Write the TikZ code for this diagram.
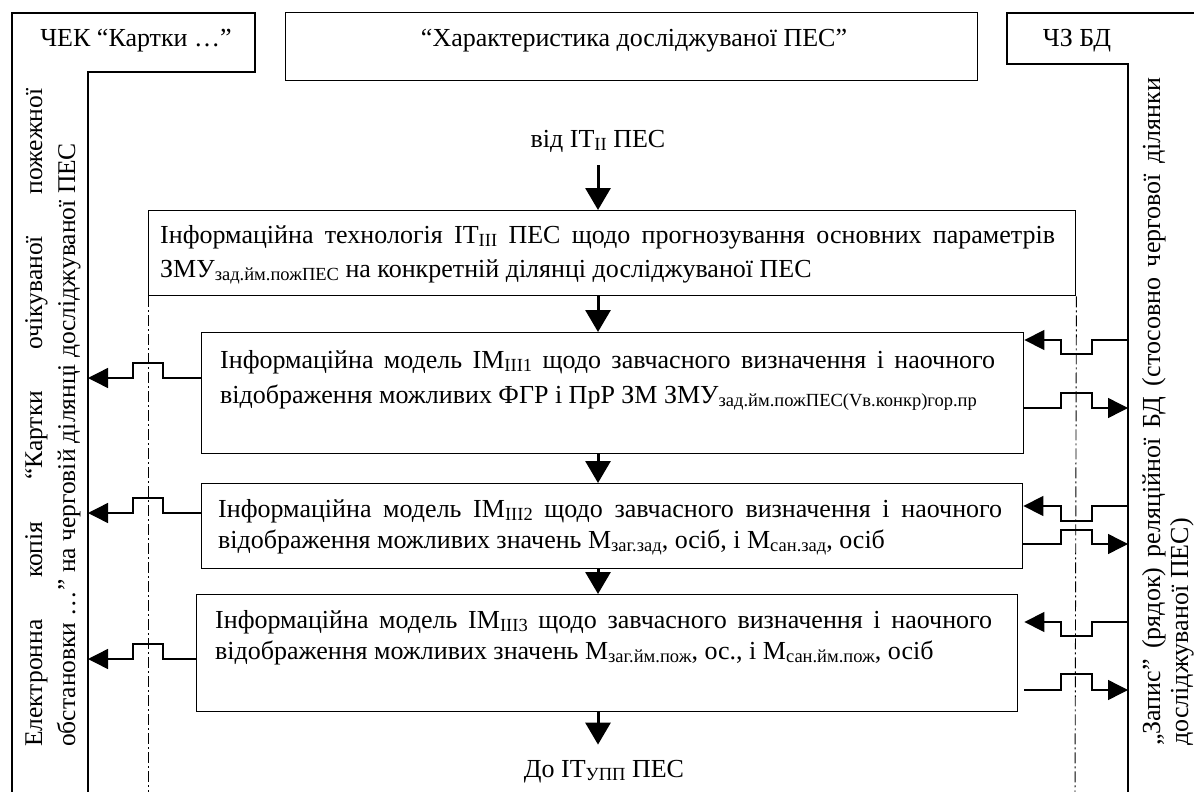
\documentclass[tikz,border=0pt]{standalone}
\usepackage{fontspec}
\setmainfont{Liberation Serif}
\usetikzlibrary{arrows.meta,calc}
\newcommand\sbs[1]{\raisebox{-3.5pt}{\fontsize{18.5}{18.5}\selectfont #1}}
\newcommand\tstrut{\rule{0pt}{24pt}}
\newcommand\jline[2]{\makebox[#1][s]{#2}}
\begin{document}
\begin{tikzpicture}[x=1pt,y=-1pt,
  frm/.style={line width=1.4pt},
  box/.style={draw,line width=1.4pt,inner sep=0pt,anchor=north west},
  lbl/.style={inner sep=0pt,font=\fontsize{26}{32}\selectfont},
  para/.style={inner sep=0pt,anchor=north west,align=left,font=\fontsize{26}{#1}\selectfont},
  vpara/.style={inner sep=0pt,anchor=north west,align=left,rotate=90,font=\fontsize{25.5}{#1}\selectfont},
  axisline/.style={line width=0.9pt,dash pattern=on 11pt off 3pt on 2pt off 3pt},
  flow/.style={line width=3pt,-{Triangle[length=22pt,width=25pt]}},
  link/.style={line width=1.4pt,-{Triangle[length=20pt,width=20pt]}}]
\useasboundingbox (0,0) rectangle (1194,792);

% frames
\draw[frm] (12,800) -- (12,13) -- (255,13) -- (255,72) -- (88,72) -- (88,800);
\draw[frm] (1200,13) -- (1007,13) -- (1007,64) -- (1128,64) -- (1128,800);
\node[box,minimum width=692pt,minimum height=68pt] (hdr) at (285,12) {};

% header labels
\node[lbl,anchor=base] (chek) at (136,47) {ЧЕК “Картки …”};
\node[lbl,anchor=base] (har) at (634,47) {“Характеристика досліджуваної ПЕС”};
\node[lbl,anchor=base] (chz) at (1077,47) {ЧЗ БД};
\node[lbl,anchor=base] (from) at (598,147) {від IT\sbs{II} ПЕС};
\node[lbl,anchor=base] (to) at (604,777) {До IT\sbs{УПП} ПЕС};

% boxes
\node[box,minimum width=927pt,minimum height=85pt] (b1) at (148,210) {};
\node[box,minimum width=822pt,minimum height=121pt] (b2) at (201,332) {};
\node[box,minimum width=821pt,minimum height=85pt] (b3) at (201,483) {};
\node[box,minimum width=821pt,minimum height=117pt] (b4) at (196,594) {};

% box texts
\node[para=34] (t1) at (160,219) {\tstrut\jline{895pt}{Інформаційна технологія IT\sbs{III} ПЕС щодо прогнозування основних параметрів}\\ЗМУ\sbs{зад.йм.пожПЕС} на конкретній ділянці досліджуваної ПЕС};
\node[para=35] (t2) at (220,344) {\tstrut\jline{775pt}{Інформаційна модель IM\sbs{III1} щодо завчасного визначення і наочного}\\відображення можливих ФГР і ПрР ЗМ ЗМУ\sbs{зад.йм.пожПЕС(Vв.конкр)гор.пр}};
\node[para=31] (t3) at (218,493) {\tstrut\jline{784pt}{Інформаційна модель IM\sbs{III2} щодо завчасного визначення і наочного}\\відображення можливих значень М\sbs{заг.зад}, осіб, і М\sbs{сан.зад}, осіб};
\node[para=31] (t4) at (215,604) {\tstrut\jline{777pt}{Інформаційна модель IM\sbs{III3} щодо завчасного визначення і наочного}\\відображення можливих значень М\sbs{заг.йм.пож}, ос., і М\sbs{сан.йм.пож}, осіб};

% vertical texts
\node[vpara=33] (lv) at (18,747) {\tstrut\jline{658pt}{Електронна копія “Картки очікуваної пожежної}\\обстановки …” на черговій ділянці досліджуваної ПЕС};
\node[para=28,rotate=90] (rv) at (1136,746) {\tstrut\jline{668pt}{„Запис” (рядок) реляційної БД (стосовно чергової ділянки}\\досліджуваної ПЕС)};

% dash-dot axes
\draw[axisline] (b1.south west) -- (148,800);
\draw[axisline] (b1.south east) -- (1075,800);

% main flow
\coordinate (ax) at (598,0);
\draw[flow] ($(ax |- from.south)+(0,13)$) -- (ax |- b1.north);
\draw[flow] (ax |- b1.south) -- (ax |- b2.north);
\draw[flow] (ax |- b2.south) -- (ax |- b3.north);
\draw[flow] (ax |- b3.south) -- (ax |- b4.north);
\draw[flow] (ax |- b4.south) -- ($(ax |- to.north)+(0,-15)$);

% left outputs
\coordinate (L2) at (88,378);
\coordinate (L3) at (88,513);
\coordinate (L4) at (88,659);
\draw[link] (b2.west |- L2) -- (163,378) -- (163,363) -- (133,363) -- (133,378) -- (L2);
\draw[link] (b3.west |- L3) -- (163,513) -- (163,498) -- (133,498) -- (133,513) -- (L3);
\draw[link] (b4.west |- L4) -- (163,659) -- (163,644) -- (133,644) -- (133,659) -- (L4);

% right inputs / outputs
\coordinate (R2i) at (1128,340);
\coordinate (R2o) at (1128,408);
\coordinate (R3i) at (1128,506);
\coordinate (R3o) at (1128,544);
\coordinate (R4i) at (1128,622);
\coordinate (R4o) at (1128,690);
\draw[link] (R2i) -- (1092,340) -- (1092,354) -- (1061,354) -- (1061,340) -- (b2.east |- R2i);
\draw[link] (b2.east |- R2o) -- (1061,408) -- (1061,393) -- (1092,393) -- (1092,408) -- (R2o);
\draw[link] (R3i) -- (1092,506) -- (1092,521) -- (1061,521) -- (1061,506) -- (b3.east |- R3i);
\draw[link] (b3.east |- R3o) -- (1061,544) -- (1061,530) -- (1092,530) -- (1092,544) -- (R3o);
\draw[link] (R4i) -- (1092,622) -- (1092,636) -- (1061,636) -- (1061,622) -- ($(b4.east |- R4i)+(6,0)$);
\draw[link] ($(b4.east |- R4o)+(6,0)$) -- (1061,690) -- (1061,674) -- (1092,674) -- (1092,690) -- (R4o);
\end{tikzpicture}
\end{document}
